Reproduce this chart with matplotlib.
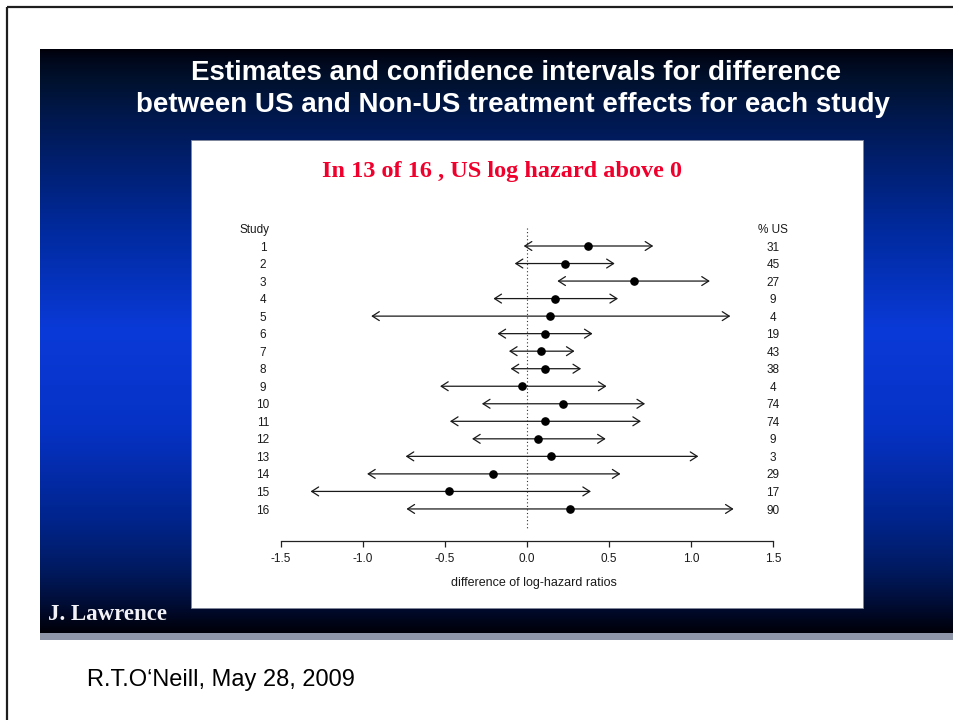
import numpy as np
import matplotlib
matplotlib.use("Agg")
import matplotlib.pyplot as plt
from matplotlib.patches import Rectangle

# ---- data ---------------------------------------------------------------
studies = [str(i) for i in range(1, 17)]
estimate = [0.37, 0.23, 0.65, 0.17, 0.14, 0.11, 0.085, 0.11,
            -0.03, 0.22, 0.11, 0.07, 0.145, -0.205, -0.475, 0.26]
ci_low = [-0.02, -0.075, 0.185, -0.205, -0.95, -0.18, -0.11, -0.10,
          -0.53, -0.275, -0.47, -0.335, -0.74, -0.975, -1.32, -0.735]
ci_high = [0.77, 0.535, 1.115, 0.555, 1.24, 0.40, 0.29, 0.33,
           0.485, 0.72, 0.695, 0.48, 1.045, 0.57, 0.39, 1.26]
pct_us = [31, 45, 27, 9, 4, 19, 43, 38, 4, 74, 74, 9, 3, 29, 17, 90]
x_ticks = [-1.5, -1.0, -0.5, 0.0, 0.5, 1.0, 1.5]

W, H = 954, 720
fig = plt.figure(figsize=(W / 100, H / 100), dpi=100)
fig.patch.set_facecolor("white")

# ---- slide background, drawn in pixel coordinates -------------------------
bg = fig.add_axes([0, 0, 1, 1])
bg.set_xlim(0, W)
bg.set_ylim(H, 0)
bg.axis("off")

# page frame
bg.plot([7, 7], [7, H + 5], color="#1e1e1e", lw=1.6, solid_capstyle="butt")
bg.plot([7, W + 5], [7, 7], color="#1e1e1e", lw=1.6, solid_capstyle="butt")

# vertical blue gradient of the slide
stops_y = [49, 58, 80, 115, 150, 230, 330, 430, 520, 570, 605, 633]
stops_c = ["#00000a", "#00071a", "#00112e", "#00184c", "#001d66", "#002a9e",
           "#0a3ad8", "#0632c4", "#00248c", "#001a60", "#000c34", "#000008"]
rgb = np.array([matplotlib.colors.to_rgb(c) for c in stops_c])
yy = np.arange(49, 634)
grad = np.stack([np.interp(yy, stops_y, rgb[:, k]) for k in range(3)], axis=-1)
grad = grad[:, None, :]
bg.imshow(grad, extent=(40, W + 2, 633, 49), aspect="auto", origin="upper",
          interpolation="bilinear", zorder=1)
bg.add_patch(Rectangle((40, 633), W, 7, facecolor="#8e96a8", edgecolor="none", zorder=1))

# white panel
bg.add_patch(Rectangle((191, 140), 672, 468, facecolor="white",
                       edgecolor="#7f879a", lw=0.6, zorder=2))

bg.text(516, 73.5, "Estimates and confidence intervals for difference",
        color="white", fontsize=20, fontweight="bold", family="Liberation Sans",
        ha="center", va="center", zorder=3)
bg.text(513, 104.5, "between US and Non-US treatment effects for each study",
        color="white", fontsize=20, fontweight="bold", family="Liberation Sans",
        ha="center", va="center", zorder=3)
bg.text(502, 171, "In 13 of 16 , US log hazard above 0", color="#f0002c",
        fontsize=17.5, fontweight="bold", family="Liberation Serif",
        ha="center", va="center", zorder=3)
bg.text(48, 614, "J. Lawrence", color="#f2f2f6", fontsize=16.5, fontweight="bold",
        family="Liberation Serif", ha="left", va="center", zorder=3)
bg.text(87, 680, "R.T.O\u2018Neill, May 28, 2009", color="black", fontsize=17,
        family="Liberation Sans", ha="left", va="center", zorder=3)
bg.text(534, 583, "difference of log-hazard ratios", color="#1a1a1a", fontsize=9,
        family="Liberation Sans", ha="center", va="center", zorder=3)

# ---- forest plot axes -----------------------------------------------------
row0_px, row_step = 246.0, 17.53
x_left_px, x_right_px = 281.0, 773.0
top_px = row0_px - 1.5 * row_step
axis_px = 541.0
y_bottom = 1 + (axis_px - row0_px) / row_step

ax = fig.add_axes([x_left_px / W, 1 - axis_px / H,
                   (x_right_px - x_left_px) / W, (axis_px - top_px) / H])
ax.set_zorder(5)
ax.patch.set_alpha(0)
ax.set_xlim(-1.5, 1.5)
ax.set_ylim(y_bottom, -0.5)
for s in ["top", "right", "left"]:
    ax.spines[s].set_visible(False)
ax.spines["bottom"].set_color("#222222")
ax.spines["bottom"].set_linewidth(0.9)
ax.set_yticks([])
ax.set_xticks(x_ticks)
ax.set_xticklabels([f"{t:.1f}" for t in x_ticks], fontsize=8.5,
                   family="Liberation Sans", color="#1a1a1a")
ax.tick_params(axis="x", direction="out", length=4.5, width=0.9,
               color="#222222", pad=4.5)

rows = np.arange(1, len(studies) + 1)

# reference line at zero
ax.plot([0, 0], [0, 1 + (528 - row0_px) / row_step], color="#333333",
        lw=0.8, dashes=(1, 2.2), clip_on=False)

for y, lo, hi in zip(rows, ci_low, ci_high):
    ax.annotate("", xy=(lo, y), xytext=(hi, y),
                arrowprops=dict(arrowstyle="<->,head_length=0.5,head_width=0.32",
                                lw=0.9, color="#1a1a1a", shrinkA=0, shrinkB=0,
                                mutation_scale=10))
ax.plot(estimate, rows, "o", ms=5.2, color="black", zorder=4)

x_study = (263 - 527) / 164.0
small = dict(fontsize=8.5, family="Liberation Sans", color="#1a1a1a",
             ha="center", va="center", clip_on=False)
dy = 0.09
ax.text((255 - 527) / 164.0, 0 + dy, "Study", **small)
ax.text(1.5, 0 + dy, "% US", **small)
for y, s, p in zip(rows, studies, pct_us):
    ax.text(x_study, y + dy, s, **small)
    ax.text(1.5, y + dy, str(p), **small)

fig.savefig("out.png", dpi=100)
